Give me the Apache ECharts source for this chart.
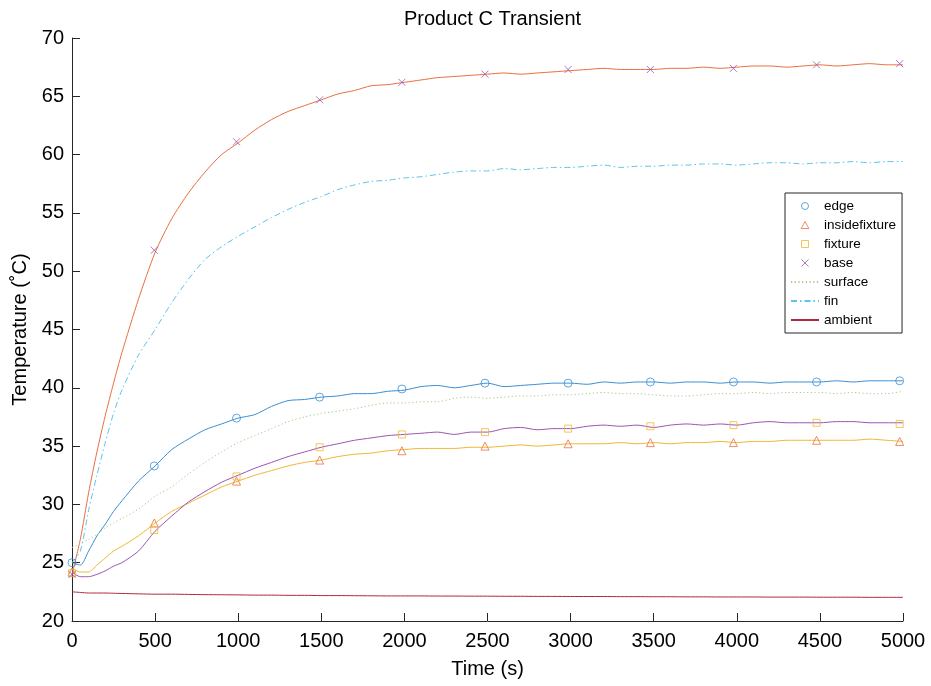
<!DOCTYPE html>
<html>
<head>
<meta charset="utf-8">
<script src="https://cdn.jsdelivr.net/npm/echarts@6/dist/echarts.min.js"></script>
<style>
html,body{margin:0;padding:0;background:#fff;}
#chart{width:931px;height:686px;}
</style>
</head>
<body>
<div id="chart"></div>
<script>
// Sample times (s) for the continuous traces
var times = [0,50,100,150,200,250,300,
  400,500,600,700,800,900,1000,
  1100,1200,1300,1400,1500,1600,1700,1800,1900,2000,
  2100,2200,2300,2400,2500,2600,2700,2800,2900,3000,
  3100,3200,3300,3400,3500,3600,3700,3800,3900,4000,
  4100,4200,4300,4400,4500,4600,4700,4800,4900,5000];

// Continuous traces (°C)
var orangeLine = [24.0,27.0,31.0,34.5,37.6,40.4,43.0,
  47.6,51.6,54.5,56.7,58.5,60.0,61.0,
  62.1,63.0,63.7,64.2,64.7,65.2,65.5,65.9,66.0,66.2,
  66.4,66.6,66.7,66.8,66.9,67.0,66.9,67.0,67.1,67.2,
  67.3,67.4,67.3,67.3,67.3,67.4,67.4,67.5,67.4,67.5,
  67.6,67.6,67.5,67.6,67.7,67.6,67.7,67.8,67.7,67.7];
var finLine = [25.0,26.0,29.5,32.5,35.3,37.8,39.8,
  42.8,45.0,47.3,49.3,51.0,52.1,53.0,
  53.8,54.6,55.3,55.9,56.4,57.0,57.4,57.7,57.8,58.0,
  58.1,58.3,58.5,58.6,58.6,58.8,58.7,58.8,58.9,58.9,
  59.0,59.1,58.9,59.0,59.0,59.1,59.1,59.2,59.2,59.1,
  59.2,59.3,59.3,59.2,59.3,59.3,59.4,59.3,59.4,59.4];
var blueLine = [25.0,24.8,26.0,27.3,28.3,29.4,30.3,
  32.0,33.3,34.7,35.6,36.4,36.9,37.4,
  37.7,38.4,38.9,39.0,39.2,39.3,39.5,39.5,39.7,39.8,
  40.1,40.2,40.0,40.2,40.4,40.1,40.2,40.3,40.4,40.4,
  40.3,40.5,40.4,40.5,40.5,40.4,40.5,40.5,40.4,40.5,
  40.5,40.4,40.5,40.5,40.5,40.6,40.5,40.6,40.6,40.6];
var surfaceLine = [26.3,26.6,27.0,27.4,28.0,28.4,28.8,
  29.6,30.7,31.5,32.6,33.6,34.5,35.3,
  35.9,36.5,37.1,37.5,37.8,38.0,38.2,38.5,38.7,38.7,
  38.8,38.8,39.1,39.2,39.1,39.2,39.3,39.3,39.4,39.4,
  39.5,39.6,39.5,39.5,39.4,39.3,39.3,39.4,39.5,39.5,
  39.6,39.5,39.6,39.6,39.6,39.5,39.6,39.5,39.5,39.7];
var purpleLine = [24.2,23.8,23.8,24.0,24.3,24.7,25.0,
  26.0,27.7,29.0,30.2,31.1,31.9,32.5,
  33.1,33.6,34.1,34.5,34.9,35.2,35.5,35.7,35.9,36.0,
  36.1,36.2,36.0,36.2,36.2,36.5,36.6,36.4,36.5,36.5,
  36.7,36.8,36.7,36.8,36.6,36.8,36.9,36.8,36.9,36.8,
  37.0,37.1,37.0,37.0,37.0,37.1,37.1,37.0,37.0,37.0];
var yellowLine = [24.5,24.2,24.2,24.8,25.4,26.0,26.4,
  27.3,28.4,29.4,30.1,30.8,31.5,32.0,
  32.5,32.9,33.3,33.6,33.8,34.1,34.3,34.4,34.6,34.7,
  34.8,34.8,34.8,34.9,34.9,35.0,35.1,35.0,35.1,35.2,
  35.2,35.2,35.3,35.2,35.3,35.2,35.3,35.3,35.4,35.3,
  35.4,35.4,35.5,35.5,35.5,35.5,35.5,35.6,35.5,35.4];
var ambientLine = [22.5,22.45,22.4,22.4,22.4,22.38,22.36,
  22.33,22.3,22.3,22.28,22.26,22.25,22.24,
  22.22,22.22,22.2,22.2,22.18,22.18,22.17,22.16,22.15,22.15,
  22.15,22.14,22.14,22.13,22.13,22.12,22.12,22.11,22.11,22.1,
  22.1,22.1,22.09,22.09,22.08,22.08,22.07,22.07,22.06,22.06,
  22.06,22.05,22.05,22.05,22.04,22.04,22.04,22.03,22.03,22.03];

// Marker samples
var markerTimes = [0,495,990,1490,1985,2485,2985,3480,3980,4480,4980];
var edgeMarks = [25.0,33.3,37.4,39.2,39.9,40.4,40.4,40.5,40.5,40.5,40.6];
var insideMarks = [24.2,28.4,32.0,33.8,34.6,35.0,35.2,35.3,35.3,35.5,35.4];
var fixtureMarks = [24.1,27.8,32.4,34.9,36.0,36.2,36.5,36.7,36.8,37.0,36.9];
var baseMarks = [24.0,51.8,61.1,64.7,66.2,66.9,67.3,67.3,67.4,67.7,67.8];

var legendNames = ['edge','insidefixture','fixture','base','surface','fin','ambient'];

var C = {
  blue:'#3b8ed3', orange:'#e8703f', yellow:'#f2b632', purple:'#9a55b0',
  green:'#a9c98a', cyan:'#5cc3ee', ambient:'#b0283f'
};
var FONT = 'Liberation Sans, Arial, Helvetica, sans-serif';
var XPATH = 'path://M0,0L1,1M1,0L0,1';
var TRIPATH = 'path://M0.5,0L1,0.9L0,0.9Z';
var RECTPATH = 'path://M0,0L1,0L1,1L0,1Z';

function pairs(xs, ys){ return xs.map(function(x,i){ return [x, ys[i]]; }); }

function lineSeries(name, ys, color, type){
  return {
    name: name, type: 'line', data: pairs(times, ys),
    symbol: 'none', showSymbol: false, silent: true, smooth: 0.25,
    lineStyle: {color: color, width: 1, type: type || 'solid'},
    itemStyle: {color: color},
    z: 2
  };
}
function markSeries(name, ys, color, symbol, size){
  return {
    name: name, type: 'scatter', data: pairs(markerTimes, ys),
    symbol: symbol, symbolSize: size, silent: true,
    itemStyle: {color: 'rgba(0,0,0,0)', borderColor: color, borderWidth: 1},
    z: 3
  };
}
var hiddenDot = {color:'rgba(0,0,0,0)', borderColor:'rgba(0,0,0,0)', borderWidth:0, opacity:0};

var chart = echarts.init(document.getElementById('chart'), null, {renderer:'canvas'});
chart.setOption({
  animation: false,
  backgroundColor: '#fff',
  textStyle: {fontFamily: FONT},
  title: {
    text: 'Product C Transient',
    left: 487.5, top: 4, textAlign: 'center',
    textStyle: {fontFamily: FONT, fontSize: 20, fontWeight: 'normal', color: '#000'}
  },
  grid: {left: 72, right: 28, top: 38, bottom: 65, containLabel: false, outerBoundsMode: 'none'},
  legend: {
    data: [
      {name:'edge', icon:'circle', itemStyle:{color:'rgba(0,0,0,0)', borderColor:C.blue, borderWidth:1}},
      {name:'insidefixture', icon:TRIPATH, itemStyle:{color:'rgba(0,0,0,0)', borderColor:C.orange, borderWidth:1}},
      {name:'fixture', icon:RECTPATH, itemStyle:{color:'rgba(0,0,0,0)', borderColor:C.yellow, borderWidth:1}},
      {name:'base', icon:XPATH, itemStyle:{color:'rgba(0,0,0,0)', borderColor:C.purple, borderWidth:1}},
      {name:'surface', itemStyle: hiddenDot},
      {name:'fin', itemStyle: hiddenDot},
      {name:'ambient', itemStyle: hiddenDot}
    ],
    orient: 'vertical', left: 785, top: 193,
    padding: [6, 6, 6, 5],
    itemWidth: 28, itemHeight: 7, itemGap: 5,
    symbolKeepAspect: true,
    backgroundColor: '#fff', borderColor: '#262626', borderWidth: 1, borderRadius: 0,
    selectedMode: false,
    textStyle: {fontFamily: FONT, fontSize: 13.5, color: '#000', lineHeight: 14}
  },
  xAxis: {
    type: 'value', min: 0, max: 5000, interval: 500,
    name: 'Time (s)', nameLocation: 'middle', nameGap: 38,
    nameTextStyle: {fontFamily: FONT, fontSize: 20, color: '#000'},
    axisLine: {show: true, lineStyle: {color: '#262626', width: 1}},
    axisTick: {show: true, inside: true, length: 8, lineStyle: {color: '#262626'}},
    axisLabel: {fontFamily: FONT, fontSize: 20, color: '#000', margin: 10,
      formatter: function(v){ return String(v); }},
    splitLine: {show: false}
  },
  yAxis: {
    type: 'value', min: 20, max: 70, interval: 5,
    name: 'Temperature (˚C)', nameLocation: 'middle', nameGap: 41,
    nameTextStyle: {fontFamily: FONT, fontSize: 20, color: '#000'},
    axisLine: {show: true, lineStyle: {color: '#262626', width: 1}},
    axisTick: {show: true, inside: true, length: 8, lineStyle: {color: '#262626'}},
    axisLabel: {fontFamily: FONT, fontSize: 20, color: '#000', margin: 8},
    splitLine: {show: false}
  },
  series: [
    lineSeries('edgeTrace', blueLine, C.blue),
    lineSeries('orangeTrace', orangeLine, C.orange),
    lineSeries('yellowTrace', yellowLine, C.yellow),
    lineSeries('purpleTrace', purpleLine, C.purple),
    markSeries('edge', edgeMarks, C.blue, 'circle', 8),
    markSeries('insidefixture', insideMarks, C.orange, 'triangle', 8),
    markSeries('fixture', fixtureMarks, C.yellow, 'rect', 7),
    markSeries('base', baseMarks, C.purple, XPATH, 7),
    lineSeries('surface', surfaceLine, C.green, [1.2, 2.5]),
    lineSeries('fin', finLine, C.cyan, [6, 3, 1.5, 3]),
    lineSeries('ambient', ambientLine, C.ambient)
  ]
});
</script>
</body>
</html>
